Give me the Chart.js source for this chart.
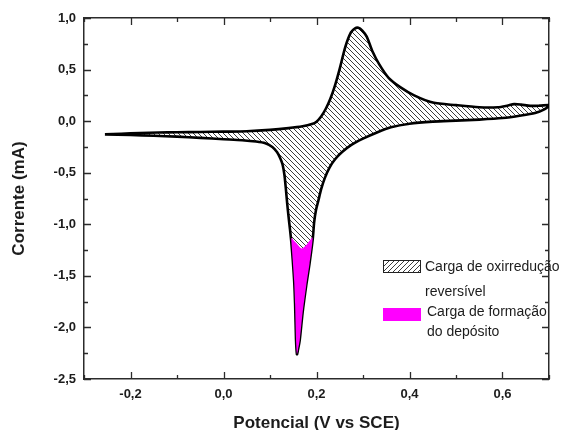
<!DOCTYPE html>
<html>
<head>
<meta charset="utf-8">
<script src="https://cdn.jsdelivr.net/npm/chart.js@4/dist/chart.umd.min.js"></script>
<style>
  html, body { margin: 0; padding: 0; background: #fff; }
  #wrap { width: 569px; height: 430px; position: relative; }
</style>
</head>
<body>
<div id="wrap"><canvas id="cv"></canvas></div>
<script>
// Cyclic voltammogram: forward (anodic) scan, left to right
const fwdV = [-0.255, -0.22, -0.18, -0.14, -0.10, -0.05, 0.00, 0.05, 0.10, 0.14, 0.17, 0.19, 0.20, 0.21, 0.22, 0.23, 0.24, 0.25, 0.262, 0.274, 0.283, 0.290, 0.298, 0.308, 0.320, 0.335, 0.355, 0.38, 0.41, 0.45, 0.50, 0.55, 0.59, 0.61, 0.625, 0.64, 0.66, 0.68, 0.702];
const fwdI = [-0.128, -0.122, -0.115, -0.110, -0.108, -0.105, -0.102, -0.098, -0.085, -0.068, -0.050, -0.028, -0.005, 0.045, 0.12, 0.22, 0.35, 0.51, 0.72, 0.86, 0.90, 0.905, 0.88, 0.82, 0.68, 0.55, 0.42, 0.33, 0.25, 0.18, 0.155, 0.135, 0.135, 0.15, 0.165, 0.16, 0.148, 0.150, 0.156];

// Reverse (cathodic) scan, right to left, through the deposition spike
const revV = [0.702, 0.69, 0.67, 0.64, 0.60, 0.55, 0.50, 0.45, 0.40, 0.36, 0.33, 0.30, 0.275, 0.255, 0.24, 0.228, 0.218, 0.210, 0.204, 0.199, 0.195, 0.192, 0.185, 0.178, 0.170, 0.164, 0.160, 0.158, 0.156, 0.154, 0.152, 0.149, 0.146, 0.143, 0.140, 0.137, 0.134, 0.131, 0.127, 0.122, 0.115, 0.105, 0.09, 0.07, 0.04, 0.00, -0.05, -0.10, -0.15, -0.20, -0.255];
const revI = [0.156, 0.115, 0.08, 0.055, 0.03, 0.015, 0.005, -0.005, -0.025, -0.06, -0.11, -0.17, -0.23, -0.30, -0.37, -0.45, -0.55, -0.66, -0.77, -0.86, -0.98, -1.14, -1.38, -1.59, -1.86, -2.12, -2.22, -2.26, -2.12, -1.77, -1.55, -1.35, -1.18, -1.05, -0.93, -0.80, -0.65, -0.52, -0.42, -0.36, -0.30, -0.25, -0.215, -0.198, -0.185, -0.175, -0.162, -0.150, -0.142, -0.135, -0.128];

// Deposit formation charge (bottom of the cathodic spike)
const depV = [0.1455, 0.149, 0.152, 0.154, 0.156, 0.158, 0.160, 0.164, 0.170, 0.178, 0.185, 0.1915, 0.180, 0.168, 0.156, 0.1455];
const depI = [-1.13, -1.35, -1.55, -1.77, -2.12, -2.26, -2.22, -2.12, -1.86, -1.59, -1.38, -1.13, -1.19, -1.235, -1.18, -1.13];

// Axis ticks and labels
const xTickValues = [-0.2, 0.0, 0.2, 0.4, 0.6];
const xTickLabels = ['-0,2', '0,0', '0,2', '0,4', '0,6'];
const xMinorTicks = [-0.3, -0.1, 0.1, 0.3, 0.5, 0.7];
const yTickValues = [1.0, 0.5, 0.0, -0.5, -1.0, -1.5, -2.0, -2.5];
const yTickLabels = ['1,0', '0,5', '0,0', '-0,5', '-1,0', '-1,5', '-2,0', '-2,5'];
const yMinorTicks = [0.75, 0.25, -0.25, -0.75, -1.25, -1.75, -2.25];

const legendLabels = [
  ['Carga de oxirredução', 'reversível'],
  ['Carga de formação', 'do depósito']
];

const FONT = "'Liberation Sans', Arial, Helvetica, sans-serif";
const AXIS = '#2b2b2b';
const TEXT = '#1c1c1c';
const MAGENTA = '#ff00ff';

function hatchPattern(forward) {
  const s = 5;
  const c = document.createElement('canvas');
  c.width = s; c.height = s;
  const g = c.getContext('2d');
  g.strokeStyle = '#3c3c3c';
  g.lineWidth = 1;
  g.beginPath();
  for (let k = -1; k <= 1; k++) {
    if (forward) { g.moveTo(k * s, s); g.lineTo(k * s + s, 0); }
    else { g.moveTo(k * s, 0); g.lineTo(k * s + s, s); }
  }
  g.stroke();
  return g.createPattern(c, 'repeat');
}

const toPts = (xs, ys) => xs.map((x, i) => ({ x: x, y: ys[i] }));
const loopPts = toPts(fwdV, fwdI).concat(toPts(revV, revI).slice(1));
const depPts = toPts(depV, depI);

const hatchFill = hatchPattern(false);
const hatchLegend = hatchPattern(true);

// Inward tick marks on all four sides of the frame
const innerTicks = {
  id: 'innerTicks',
  afterDraw(chart) {
    const { ctx, chartArea: a, scales } = chart;
    const xs = scales.x, ys = scales.y;
    ctx.save();
    ctx.strokeStyle = AXIS;
    ctx.lineWidth = 1.3;
    ctx.beginPath();
    const xt = (v, len) => {
      const p = Math.round(xs.getPixelForValue(v)) + 0.5;
      ctx.moveTo(p, a.bottom); ctx.lineTo(p, a.bottom - len);
      ctx.moveTo(p, a.top); ctx.lineTo(p, a.top + len);
    };
    const yt = (v, len) => {
      const p = Math.round(ys.getPixelForValue(v)) + 0.5;
      ctx.moveTo(a.left, p); ctx.lineTo(a.left + len, p);
      ctx.moveTo(a.right, p); ctx.lineTo(a.right - len, p);
    };
    xTickValues.forEach(v => xt(v, 7));
    xMinorTicks.forEach(v => xt(v, 4));
    yTickValues.forEach(v => yt(v, 7));
    yMinorTicks.forEach(v => yt(v, 4));
    ctx.stroke();
    ctx.restore();
  }
};

// Legend drawn inside the plot area, lower right
const boxLegend = {
  id: 'boxLegend',
  afterDraw(chart) {
    const { ctx, chartArea: a } = chart;
    const bx = a.left + 299, bw = 38, bh = 13;
    const items = [
      { fill: hatchLegend, border: true, boxY: a.top + 242, textX: a.left + 341, lines: legendLabels[0], y0: a.top + 249, gap: 25 },
      { fill: MAGENTA, border: false, boxY: a.top + 290, textX: a.left + 343, lines: legendLabels[1], y0: a.top + 294, gap: 20 }
    ];
    ctx.save();
    items.forEach(it => {
      ctx.fillStyle = it.fill;
      ctx.fillRect(bx, it.boxY, bw, bh);
      if (it.border) {
        ctx.strokeStyle = '#222';
        ctx.lineWidth = 1;
        ctx.strokeRect(bx + 0.5, it.boxY + 0.5, bw - 1, bh - 1);
      }
      ctx.fillStyle = TEXT;
      ctx.font = '14px ' + FONT;
      ctx.textBaseline = 'middle';
      ctx.textAlign = 'left';
      it.lines.forEach((t, i) => ctx.fillText(t, it.textX, it.y0 + i * it.gap));
    });
    ctx.restore();
  }
};

const tickFont = { family: FONT, size: 13, weight: 'bold' };
const titleFont = { family: FONT, size: 17, weight: 'bold' };

new Chart(document.getElementById('cv'), {
  type: 'scatter',
  data: {
    datasets: [
      {
        label: 'Carga de formação do depósito',
        data: depPts,
        showLine: true,
        fill: 'shape',
        backgroundColor: MAGENTA,
        borderWidth: 0,
        borderColor: 'rgba(0,0,0,0)',
        tension: 0.2,
        pointRadius: 0,
        order: 0
      },
      {
        label: 'voltamograma',
        data: loopPts,
        showLine: true,
        fill: false,
        borderColor: '#000',
        borderWidth: 2.6,
        tension: 0.25,
        pointRadius: 0,
        order: 1
      },
      {
        label: 'Carga de oxirredução reversível',
        data: loopPts,
        showLine: true,
        fill: 'shape',
        backgroundColor: hatchFill,
        borderWidth: 0,
        borderColor: 'rgba(0,0,0,0)',
        tension: 0.25,
        pointRadius: 0,
        order: 2
      }
    ]
  },
  options: {
    responsive: true,
    maintainAspectRatio: false,
    animation: false,
    events: [],
    layout: { padding: { left: 0, top: 18, right: 20, bottom: 0 } },
    plugins: {
      legend: { display: false },
      tooltip: { enabled: false }
    },
    scales: {
      x: {
        type: 'linear',
        position: 'bottom',
        min: -0.3,
        max: 0.7,
        afterBuildTicks: s => { s.ticks = xTickValues.map(v => ({ value: v })); },
        afterFit: s => { s.height = 51; },
        ticks: {
          includeBounds: false,
          padding: 8,
          color: TEXT,
          font: tickFont,
          maxRotation: 0,
          callback: (v, i) => xTickLabels[i]
        },
        grid: { display: true, drawOnChartArea: false, drawTicks: false },
        border: { display: true, color: AXIS, width: 1.5 },
        title: {
          display: true,
          text: 'Potencial (V vs SCE)',
          color: TEXT,
          font: { family: FONT, size: 17, weight: 'bold', lineHeight: 0.8 },
          padding: { top: 0, bottom: 0 }
        }
      },
      y: {
        type: 'linear',
        position: 'left',
        min: -2.5,
        max: 1.0,
        afterBuildTicks: s => { s.ticks = yTickValues.map(v => ({ value: v })); },
        afterFit: s => { s.width = 84; },
        ticks: {
          includeBounds: false,
          padding: 8,
          color: TEXT,
          font: tickFont,
          callback: (v, i) => yTickLabels[i]
        },
        grid: { display: true, drawOnChartArea: false, drawTicks: false },
        border: { display: true, color: AXIS, width: 1.5 },
        title: {
          display: true,
          text: 'Corrente (mA)',
          color: TEXT,
          font: titleFont,
          padding: { top: 9, bottom: 0 }
        }
      },
      x2: {
        type: 'linear',
        position: 'top',
        min: -0.3,
        max: 0.7,
        afterFit: s => { s.height = 0; },
        ticks: { display: false },
        grid: { display: true, drawOnChartArea: false, drawTicks: false },
        border: { display: true, color: AXIS, width: 1.5 }
      },
      y2: {
        type: 'linear',
        position: 'right',
        min: -2.5,
        max: 1.0,
        afterFit: s => { s.width = 0; },
        ticks: { display: false },
        grid: { display: true, drawOnChartArea: false, drawTicks: false },
        border: { display: true, color: AXIS, width: 1.5 }
      }
    }
  },
  plugins: [innerTicks, boxLegend]
});
</script>
</body>
</html>
